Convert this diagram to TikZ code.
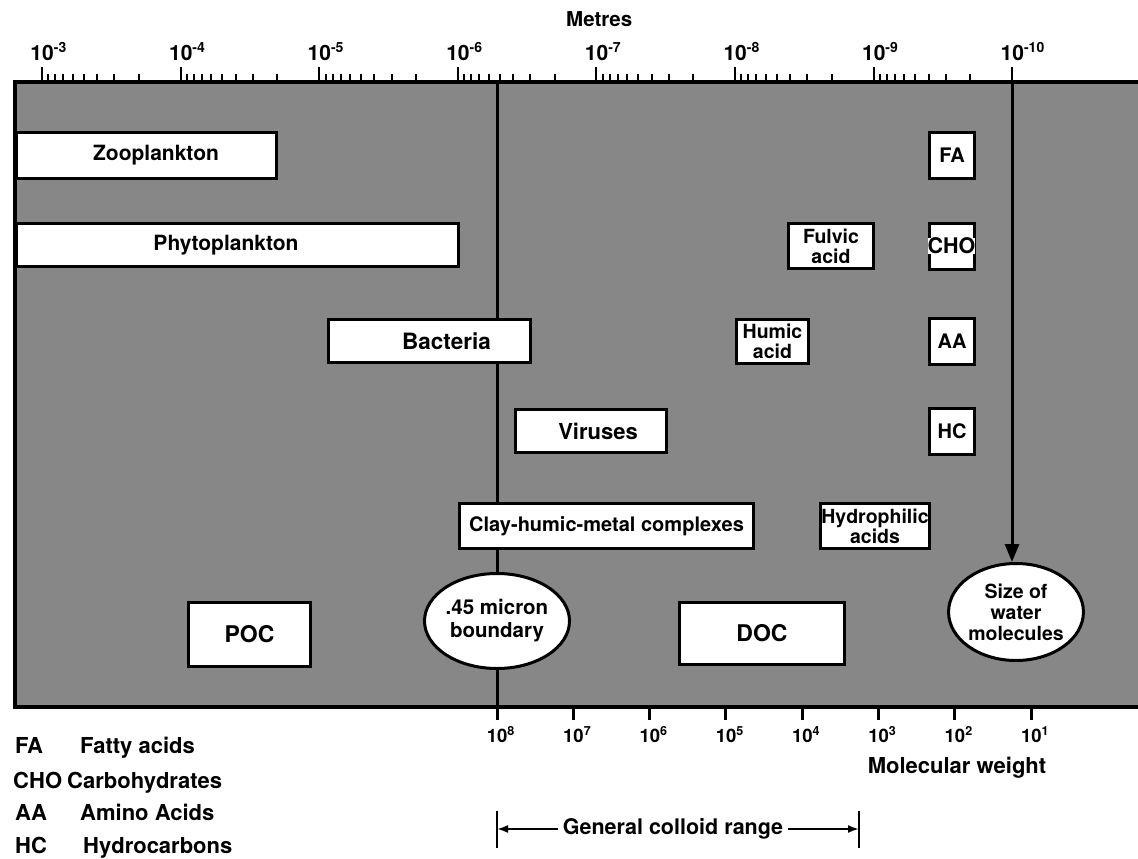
\documentclass[tikz,border=0pt]{standalone}
\usepackage{fontspec}
\setmainfont{TeX Gyre Heros}
\usetikzlibrary{arrows.meta,shapes.geometric}
\tikzset{
  box/.style={draw, fill=white, line width=3pt, inner sep=0pt, font=\fontsize{21}{22}\selectfont\bfseries},
  twobox/.style={box, align=center, font=\fontsize{19.5}{20}\selectfont\bfseries},
  sbox/.style={box, font=\fontsize{20}{20}\selectfont\bfseries, minimum width=45pt, minimum height=46pt},
  circ/.style={ellipse, draw, fill=white, line width=3pt, inner sep=0pt, align=center, font=\fontsize{19.5}{21}\selectfont\bfseries},
  lbl/.style={font=\fontsize{22}{22}\selectfont\bfseries, inner sep=0pt, anchor=base west},
  toplbl/.style={font=\fontsize{21}{21}\selectfont\bfseries, inner sep=0pt, anchor=base west},
  mwlbl/.style={font=\fontsize{18.5}{20}\selectfont\bfseries, inner sep=0pt, anchor=base west},
  tickline/.style={line width=2pt},
  heavy/.style={line width=3pt},
}
\begin{document}
\begin{tikzpicture}[x=1pt,y=-1pt]
\useasboundingbox (0,0) rectangle (1138,859);
% panel
\begin{scope}
\clip (0,0) rectangle (1138,859);
\fill[black!47] (15,82) rectangle (1150,707);
\draw[line width=4pt] (1150,82) -- (15,82) -- (15,707) -- (1150,707);
\end{scope}
% top axis
\node[font=\fontsize{20.5}{22}\selectfont\bfseries, inner sep=0pt, anchor=base west] (metres) at (566,27) {Metres};
\foreach \e [count=\i from 0] in {3,4,5,6,7,8,9,10} {
  \pgfmathsetmacro\xx{42+138.6*\i}
  \coordinate (t\i) at (\xx,82);
  \draw[tickline] (t\i) -- ++(0,-15);
  \node[toplbl] (tl\i) at (\xx-11.7,60) {10\raisebox{7.5pt}{\fontsize{14}{14}\selectfont-\e}};
}
\foreach \i in {0,...,6} {
  \foreach \k in {2,...,9} {
    \pgfmathsetmacro\xx{42+138.6*(\i+1)-138.6*log10(\k)}
    \draw[tickline] (\xx,82) -- ++(0,-8);
  }
}
% bottom axis
\foreach \e [count=\i from 0] in {8,7,6,5,4,3,2,1} {
  \pgfmathsetmacro\xx{497+76.3*\i}
  \coordinate (m\i) at (\xx,707);
  \draw[heavy] (m\i) -- ++(0,13);
  \node[mwlbl] (ml\i) at (\xx-10.3,742) {10\raisebox{6.5pt}{\fontsize{12.5}{12}\selectfont\e}};
}
\node[font=\fontsize{22}{22}\selectfont\bfseries, inner sep=0pt] (mw) at (957,768) {Molecular weight};
% boundary line
\coordinate (btop) at (497,82);
\coordinate (bbot) at (497,720);
\draw[heavy] (btop) -- (bbot);
% water arrow start
\coordinate (wtop) at (1012,82);
% boxes
\node[box, minimum width=260pt, minimum height=46pt] (zoo) at (146.5,155.5) {\rule{19pt}{0pt}Zooplankton};
\node[box, minimum width=442pt, minimum height=43pt] (phyto) at (237.5,245) {Phytoplankton\rule{23pt}{0pt}};
\node[box, font=\fontsize{22.5}{22}\selectfont\bfseries, minimum width=202pt, minimum height=43pt] (bact) at (429.5,341) {\rule{34pt}{0pt}Bacteria};
\node[box, font=\fontsize{22}{22}\selectfont\bfseries, minimum width=151pt, minimum height=43pt] (vir) at (591,431) {\rule{14pt}{0pt}Viruses};
\node[box, font=\fontsize{20}{22}\selectfont\bfseries, minimum width=294pt, minimum height=45pt] (clay) at (606.5,526) {Clay-humic-metal complexes};
\node[box, font=\fontsize{23}{24}\selectfont\bfseries, minimum width=122pt, minimum height=64pt] (poc) at (249.5,634.5) {POC};
\node[box, font=\fontsize{23}{24}\selectfont\bfseries, minimum width=165pt, minimum height=62pt] (doc) at (762,633.5) {DOC};
\node[twobox, minimum width=85pt, minimum height=45pt] (fulvic) at (831,246) {Fulvic\\acid};
\node[twobox, minimum width=72pt, minimum height=44pt] (humic) at (772.5,341.5) {Humic\\acid};
\node[twobox, minimum width=109pt, minimum height=45pt] (hydro) at (875,526) {Hydrophilic\\acids};
\node[sbox] (fa) at (952,155.5) {FA};
\node[sbox] (chob) at (951.5,246) {};
\node[fill=white, inner sep=0pt, font=\fontsize{21.5}{22}\selectfont\bfseries] (cho) at (951.5,246) {CHO};
\node[sbox] (aa) at (952,341.5) {AA};
\node[sbox] (hc) at (952,431) {HC};
% circles
\node[circ, minimum width=103pt, minimum height=95pt, font=\fontsize{20.5}{23}\selectfont\bfseries] (c45) at (497,621) {.45 micron\\boundary};
\node[circ, minimum width=109pt, minimum height=97pt] (water) at (1016,612) {Size of\\water\\molecules};
\draw[heavy, -{Triangle[length=18pt,width=14pt]}] (wtop) -- (wtop |- water.north);
% colloid range
\coordinate (cl) at (497,829);
\coordinate (cr) at (859,829);
\draw[line width=2pt] (497,811) -- (497,848);
\draw[line width=2pt] (859,811) -- (859,848);
\node[font=\fontsize{21.5}{22}\selectfont\bfseries, inner sep=5pt] (col) at (673,829) {General colloid range};
\draw[line width=2pt, -{Latex[length=11pt,width=8pt]}] (col.west) -- (cl);
\draw[line width=2pt, -{Latex[length=11pt,width=8pt]}] (col.east) -- (cr);
% legend
\node[lbl] (lfa) at (15,753) {FA};
\node[lbl] (lfat) at (80,753) {Fatty acids};
\node[lbl] (lcho) at (13,788) {CHO};
\node[lbl] (lchot) at (67,788) {Carbohydrates};
\node[lbl] (laa) at (15,820) {AA};
\node[lbl] (laat) at (80,820) {Amino Acids};
\node[lbl] (lhc) at (15,853) {HC};
\node[lbl] (lhct) at (83,853) {Hydrocarbons};
\end{tikzpicture}
\end{document}
